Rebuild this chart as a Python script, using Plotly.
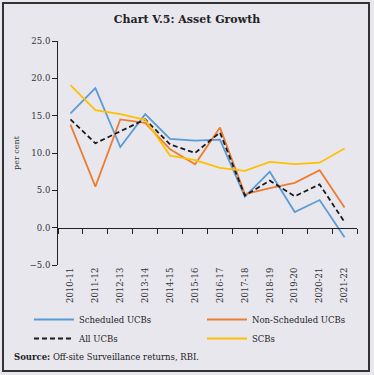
import plotly.graph_objects as go

years = ["2010-11", "2011-12", "2012-13", "2013-14", "2014-15", "2015-16",
         "2016-17", "2017-18", "2018-19", "2019-20", "2020-21", "2021-22"]
scheduled = [15.3, 18.7, 10.8, 15.2, 11.9, 11.65, 11.8, 4.15, 7.5, 2.1, 3.7, -1.3]
non_scheduled = [13.8, 5.5, 14.5, 14.05, 10.5, 8.5, 13.4, 4.5, 5.3, 6.0, 7.7, 2.7]
all_ucbs = [14.5, 11.3, 12.9, 14.5, 11.15, 10.0, 12.75, 4.3, 6.3, 4.2, 5.8, 0.75]
scbs = [19.1, 15.75, 15.2, 14.45, 9.65, 9.05, 8.0, 7.6, 8.8, 8.5, 8.7, 10.6]

BG = "#E9E7EE"
FONT = "DejaVu Serif"

fig = go.Figure()
series = [
    ("Scheduled UCBs", scheduled, "#5B9BD5", "solid", "legend"),
    ("Non-Scheduled UCBs", non_scheduled, "#ED7D31", "solid", "legend2"),
    ("All UCBs", all_ucbs, "#1a1a1a", "5px,3px", "legend"),
    ("SCBs", scbs, "#FFC000", "solid", "legend2"),
]
for name, vals, col, dash, lg in series:
    fig.add_trace(go.Scatter(x=years, y=vals, mode="lines", name=name, legend=lg,
                             line=dict(color=col, width=1.8, dash=dash)))

# dummy trace on the zero-line axis so it renders
fig.add_trace(go.Scatter(x=years, y=[0] * len(years), xaxis="x2", mode="lines",
                         line=dict(color="rgba(0,0,0,0)"), showlegend=False,
                         hoverinfo="skip"))

def px_x(px):
    return (px - 58) / 299

def px_y(py):
    return (265 - py) / 224

legend_common = dict(orientation="v", xanchor="left", yanchor="top",
                     bgcolor="rgba(0,0,0,0)", tracegroupgap=0, itemwidth=40,
                     font=dict(family=FONT, size=8.5, color="#222"))

fig.update_layout(
    width=374, height=375,
    paper_bgcolor=BG, plot_bgcolor=BG,
    margin=dict(l=58, r=17, t=41, b=110, autoexpand=False),
    title=dict(text="<b>Chart V.5: Asset Growth</b>", x=0.5, xanchor="center",
               y=(375 - 19) / 375, yanchor="middle", font=dict(family=FONT, size=11, color="#222")),
    font=dict(family=FONT, size=8, color="#333"),
    xaxis=dict(type="category", categoryorder="array", categoryarray=years,
               range=[-0.5, 11.5], showline=False, ticks="", tickangle=-90,
               showgrid=False, zeroline=False, tickfont=dict(size=8.5, family=FONT, color="#333")),
    xaxis2=dict(type="category", categoryorder="array", categoryarray=years,
                range=[-0.5, 11.5], overlaying="x", anchor="free",
                position=(265 - 228) / 224, showline=True, linecolor="#222", linewidth=1,
                ticks="outside", ticklen=5, tickcolor="#222", tickson="boundaries",
                showticklabels=False, showgrid=False, zeroline=False),
    yaxis=dict(range=[-5, 25], dtick=5, tickformat=".1f", showline=True,
               linecolor="#222", linewidth=1, ticks="outside", ticklen=5,
               tickcolor="#222", showgrid=False, zeroline=False,
               tickfont=dict(size=8.5, family=FONT, color="#333"),
               title=dict(text="per cent", font=dict(size=8, family=FONT, color="#333"), standoff=8)),
    legend=dict(x=px_x(29), y=px_y(305), **legend_common),
    legend2=dict(x=px_x(202), y=px_y(305), **legend_common),
    showlegend=True,
)

fig.add_annotation(text="<b>Source:</b> Off-site Surveillance returns, RBI.",
                   xref="paper", yref="paper", x=px_x(12), y=px_y(357),
                   xanchor="left", yanchor="middle", showarrow=False,
                   font=dict(family=FONT, size=8.5, color="#222"))

fig.add_shape(type="rect", xref="paper", yref="paper",
              x0=px_x(3), x1=px_x(369), y0=px_y(371), y1=px_y(3),
              line=dict(color="#333", width=2), fillcolor="rgba(0,0,0,0)", layer="below")

fig.write_html("out.html", config={"displayModeBar": False},
               post_script="document.body.style.margin='0';document.body.style.overflow='hidden';")
